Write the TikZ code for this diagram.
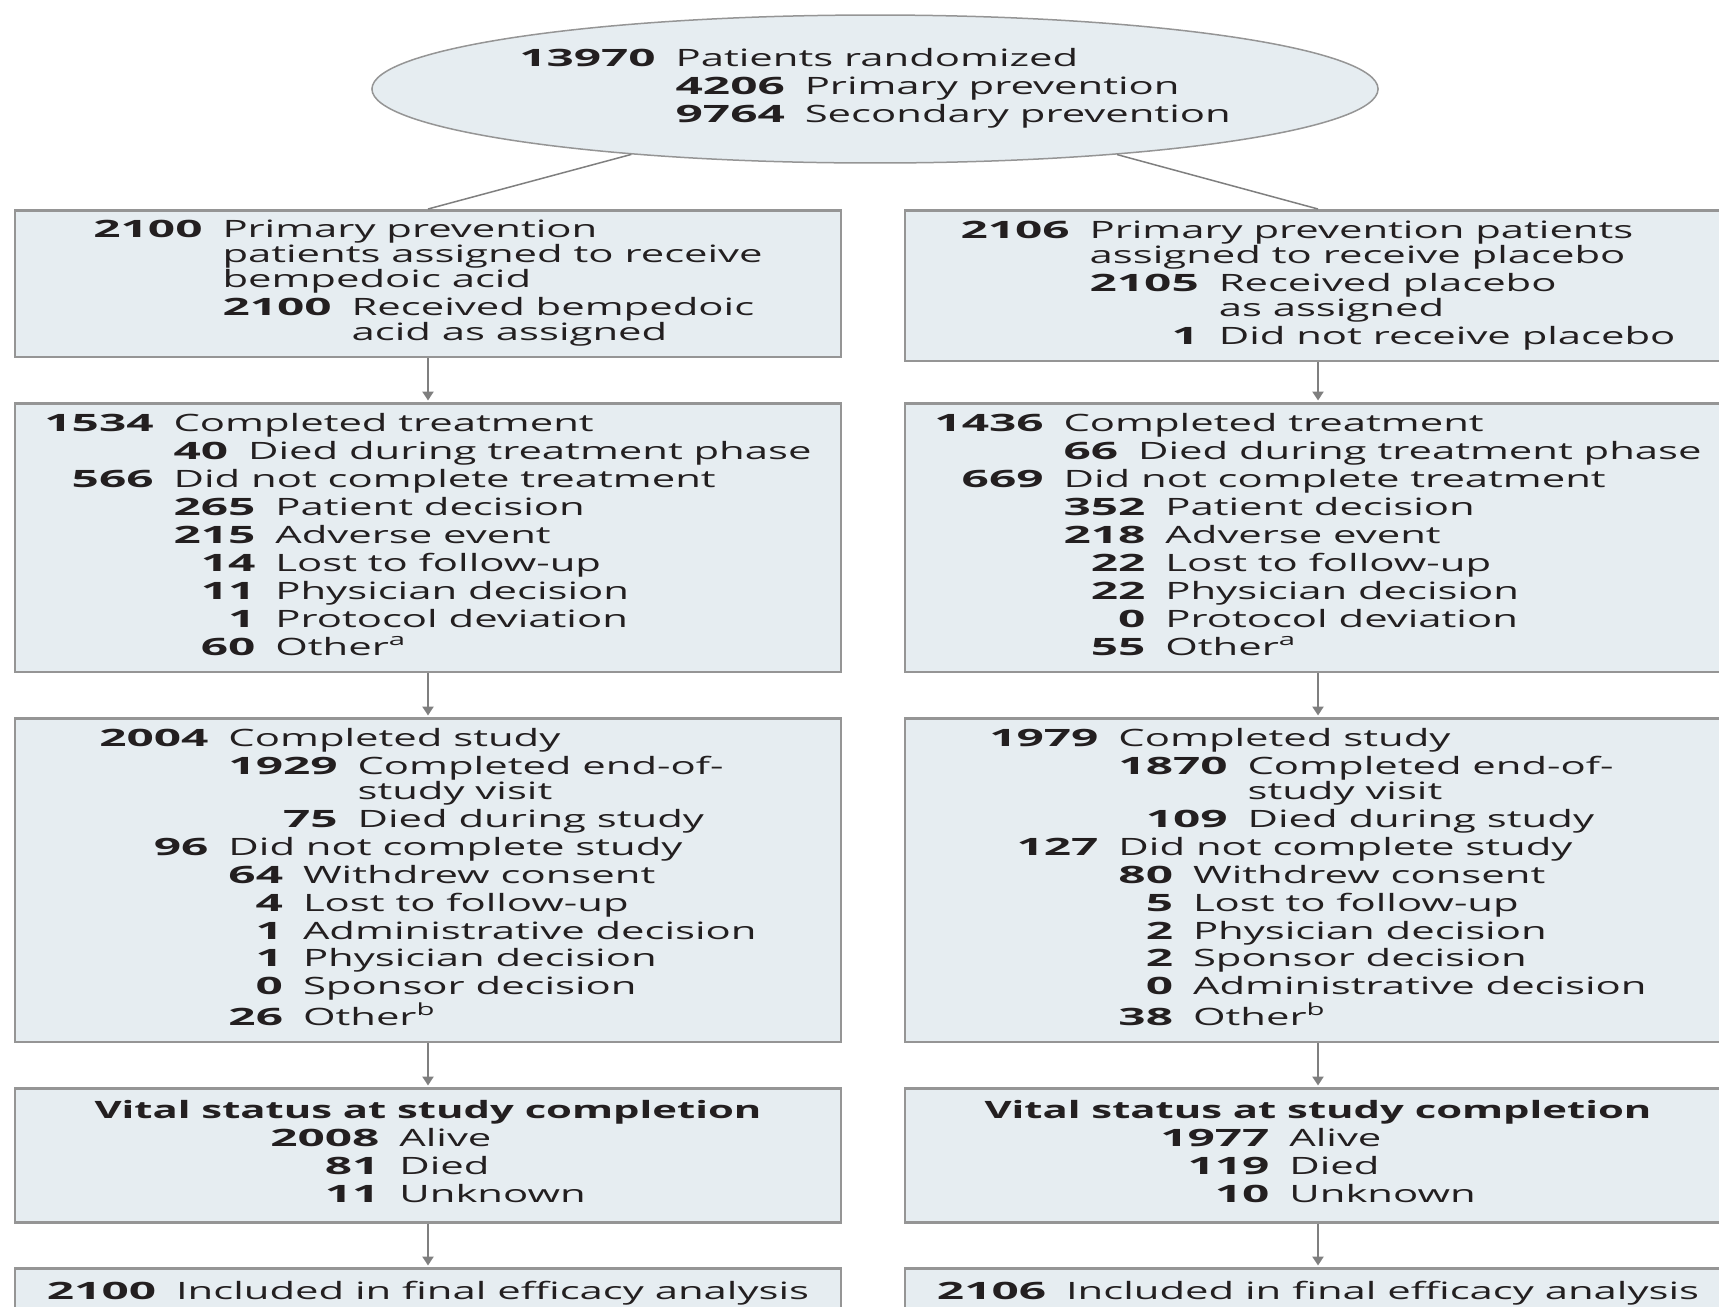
\documentclass[tikz,border=0pt]{standalone}
\usepackage{fontspec}
\setmainfont{Open Sans}[FakeStretch=1.75]
\newfontfamily\numfont{Open Sans}[FakeStretch=2.0]
\usetikzlibrary{shapes.geometric,arrows.meta}

\definecolor{boxfill}{HTML}{E6EDF1}
\definecolor{boxline}{HTML}{959595}
\definecolor{arrline}{HTML}{7F7F7F}
\definecolor{ink}{HTML}{231F20}

\newcommand{\cnt}[1]{{\numfont\bfseries #1}}
\newcommand{\grp}[1]{\begin{tabular}[t]{@{}r@{\hspace{0.4cm}}l@{}}#1\end{tabular}}
\newcommand{\rows}[1]{\begin{tabular}{@{}r@{\hspace{0.4cm}}l@{}}#1\end{tabular}}

\begin{document}
\begin{tikzpicture}[x=0.02cm, y=-0.02cm,
  every node/.style={text=ink, font=\fontsize{13.6}{15.9}\selectfont},
  box/.style={draw=boxline, line width=0.05cm, fill=boxfill, minimum width=16.52cm, inner sep=0pt, anchor=north},
  arr/.style={draw=arrline, line width=0.05cm, -{Triangle[width=0.22cm,length=0.18cm]}, shorten >=0.03cm},
  link/.style={draw=arrline, line width=0.03cm}]

\useasboundingbox (0,0) rectangle (1719,1306);

\node [ellipse, draw=boxline, line width=0.03cm, fill=boxfill, minimum width=20cm, minimum height=2.96cm, inner sep=0pt] (top) at (875,89)
  {\rows{\cnt{13970} & Patients randomized\\
   & \grp{\cnt{4206} & Primary prevention\\ \cnt{9764} & Secondary prevention}}};

\node [box, minimum height=2.94cm] (l1) at (428,209)
  {\rows{\cnt{2100} & Primary prevention\\[-0.06cm]
   & patients assigned to receive\\[-0.06cm]
   & bempedoic acid\\
   & \grp{\cnt{2100} & Received bempedoic\\[-0.06cm] & acid as assigned}}};
\node [box, minimum height=3.02cm] (r1) at (1318,209)
  {\rows{\cnt{2106} & Primary prevention patients\\[-0.06cm]
   & assigned to receive placebo\\
   & \grp{\cnt{2105} & Received placebo\\[-0.06cm] & as assigned\\ \cnt{1} & Did not receive placebo}}};

\node [box, minimum height=5.38cm] (l2) at (428,402)
  {\rows{\cnt{1534} & Completed treatment\\
   & \cnt{40}\hspace{0.4cm}Died during treatment phase\\
   \cnt{566} & Did not complete treatment\\
   & \grp{\cnt{265} & Patient decision\\ \cnt{215} & Adverse event\\ \cnt{14} & Lost to follow-up\\
     \cnt{11} & Physician decision\\ \cnt{1} & Protocol deviation\\ \cnt{60} & Other\textsuperscript{a}}}};
\node [box, minimum height=5.38cm] (r2) at (1318,402)
  {\rows{\cnt{1436} & Completed treatment\\
   & \cnt{66}\hspace{0.4cm}Died during treatment phase\\
   \cnt{669} & Did not complete treatment\\
   & \grp{\cnt{352} & Patient decision\\ \cnt{218} & Adverse event\\ \cnt{22} & Lost to follow-up\\
     \cnt{22} & Physician decision\\ \cnt{0} & Protocol deviation\\ \cnt{55} & Other\textsuperscript{a}}}};

\node [box, minimum height=6.48cm] (l3) at (428,717)
  {\rows{\cnt{2004} & Completed study\\
   & \grp{\cnt{1929} & Completed end-of-\\[-0.06cm] & study visit\\ \cnt{75} & Died during study}\\
   \cnt{96} & Did not complete study\\
   & \grp{\cnt{64} & Withdrew consent\\ \cnt{4} & Lost to follow-up\\ \cnt{1} & Administrative decision\\
     \cnt{1} & Physician decision\\ \cnt{0} & Sponsor decision\\ \cnt{26} & Other\textsuperscript{b}}}};
\node [box, minimum height=6.48cm] (r3) at (1318,717)
  {\rows{\cnt{1979} & Completed study\\
   & \grp{\cnt{1870} & Completed end-of-\\[-0.06cm] & study visit\\ \cnt{109} & Died during study}\\
   \cnt{127} & Did not complete study\\
   & \grp{\cnt{80} & Withdrew consent\\ \cnt{5} & Lost to follow-up\\ \cnt{2} & Physician decision\\
     \cnt{2} & Sponsor decision\\ \cnt{0} & Administrative decision\\ \cnt{38} & Other\textsuperscript{b}}}};

\node [box, minimum height=2.68cm] (l4) at (428,1087)
  {\begin{tabular}{@{}c@{}}\textbf{Vital status at study completion}\\
   \grp{\cnt{2008} & Alive\\ \cnt{81} & Died\\ \cnt{11} & Unknown}\end{tabular}};
\node [box, minimum height=2.68cm] (r4) at (1318,1087)
  {\begin{tabular}{@{}c@{}}\textbf{Vital status at study completion}\\
   \grp{\cnt{1977} & Alive\\ \cnt{119} & Died\\ \cnt{10} & Unknown}\end{tabular}};

\node [box, minimum height=1cm] (l5) at (428,1267) {\cnt{2100}\hspace{0.4cm}Included in final efficacy analysis};
\node [box, minimum height=1cm] (r5) at (1318,1267) {\cnt{2106}\hspace{0.4cm}Included in final efficacy analysis};

\draw [link] (top) -- (l1.north);
\draw [link] (top) -- (r1.north);

\draw [arr] (l1) -- (l2);
\draw [arr] (l2) -- (l3);
\draw [arr] (l3) -- (l4);
\draw [arr] (l4) -- (l5);
\draw [arr] (r1) -- (r2);
\draw [arr] (r2) -- (r3);
\draw [arr] (r3) -- (r4);
\draw [arr] (r4) -- (r5);

\end{tikzpicture}
\end{document}
